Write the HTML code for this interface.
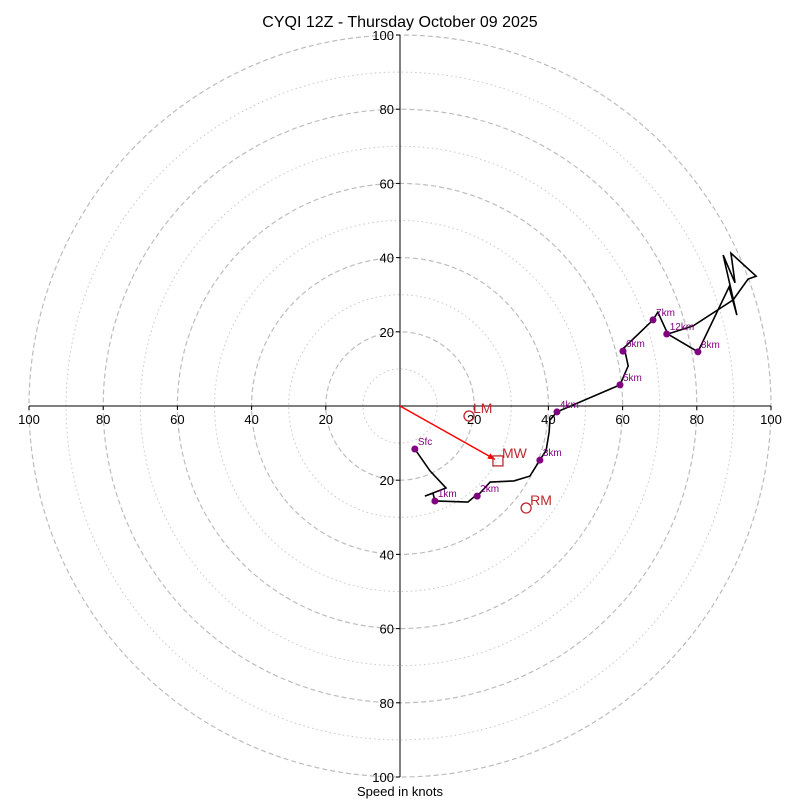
<!DOCTYPE html>
<html><head><meta charset="utf-8"><style>
html,body{margin:0;padding:0;background:#fff;}
svg{display:block;font-family:"Liberation Sans","DejaVu Sans",sans-serif;}
</style></head><body>
<svg id="chart" width="800" height="800" viewBox="0 0 800 800">
<text x="400" y="27" text-anchor="middle" font-size="16" fill="#000">CYQI 12Z - Thursday October 09 2025</text>
<text x="400" y="796" text-anchor="middle" font-size="13" fill="#000">Speed in knots</text>
<g id="rings"></g><g id="axes"></g><g id="plot"></g>
</svg>
<script>
const ringMajor = [20, 40, 60, 80, 100];
const ringMinor = [10, 30, 50, 70, 90];
const tickVals = [20, 40, 60, 80, 100];
// hodograph wind components (u, v) in knots
const hodoU = [4.0,8.1,12.4,6.7,8.9,9.4,18.3,20.2,20.8,24.3,30.7,35.0,37.7,39.4,40.2,40.4,42.3,59.3,61.5,60.4,60.1,60.6,68.2,69.5,72.2,80.3,88.7,90.8,87.1,90.3,89.2,96.0,93.8,89.8,79.0,72.2];
const hodoV = [-11.6,-17.5,-22.1,-24.3,-23.5,-25.6,-25.9,-24.3,-24.3,-20.5,-20.2,-18.9,-14.6,-11.9,-7.0,-3.8,-1.6,5.7,10.8,15.9,14.8,15.9,23.2,25.3,19.4,14.6,32.1,24.5,40.7,33.2,41.2,35.0,34.2,28.6,21.6,19.4];
const levelNames = ["Sfc","1km","2km","3km","4km","5km","6km","7km","8km","12km"];
const levelU = [4.0,9.4,20.8,37.7,42.3,59.3,60.1,68.2,80.3,71.9];
const levelV = [-11.6,-25.6,-24.3,-14.6,-1.6,5.7,14.8,23.2,14.6,19.4];
const motionNames = ["LM","MW","RM"];
const motionU = [18.6,26.4,34.0];
const motionV = [-2.7,-14.8,-27.5];

const cx=400, cy=406, R=371, maxV=100;
const sx = u => cx + u/maxV*R;
const sy = v => cy - v/maxV*R;
const NS="http://www.w3.org/2000/svg";
function mk(tag, attrs, parent){const e=document.createElementNS(NS,tag);for(const k in attrs)e.setAttribute(k,attrs[k]);parent.appendChild(e);return e;}
const rings=document.getElementById('rings'), axes=document.getElementById('axes'), plot=document.getElementById('plot');
ringMinor.forEach(r=>{const c=mk('circle',{cx:cx,cy:cy,r:r/maxV*R,fill:'none',stroke:'#c8c8c8','stroke-width':1,'stroke-dasharray':'1.5,3'},rings);

});
ringMajor.forEach(r=>{const c=mk('circle',{cx:cx,cy:cy,r:r/maxV*R,fill:'none',stroke:'#bdbdbd','stroke-width':1.2,'stroke-dasharray':'5,3'},rings);

});
const xa=mk('line',{x1:sx(-100),y1:cy,x2:sx(100),y2:cy,stroke:'#000','stroke-width':1},axes);


const ya=mk('line',{x1:cx,y1:sy(100),x2:cx,y2:sy(-100),stroke:'#000','stroke-width':1},axes);


tickVals.forEach(t=>{[t,-t].forEach(v=>{
 mk('line',{x1:sx(v),y1:cy,x2:sx(v),y2:cy+4,stroke:'#000'},axes);
 const tx=mk('text',{x:sx(v),y:cy+18,'text-anchor':'middle','font-size':13},axes);tx.textContent=t;
 
 
 mk('line',{x1:cx-4,y1:sy(v),x2:cx,y2:sy(v),stroke:'#000'},axes);
 const ty=mk('text',{x:cx-6,y:sy(v)+5,'text-anchor':'end','font-size':13},axes);ty.textContent=t;
 
 
});});
const hl=mk('polyline',{points:hodoU.map((u,i)=>sx(u)+','+sy(hodoV[i])).join(' '),fill:'none',stroke:'#000','stroke-width':1.6,'stroke-linejoin':'miter'},plot);


levelNames.forEach((n,i)=>{
 const d=mk('circle',{cx:sx(levelU[i]),cy:sy(levelV[i]),r:3.5,fill:'#800080'},plot);
 
 
 const t=mk('text',{x:sx(levelU[i])+3,y:sy(levelV[i])-4,'font-size':10,fill:'#800080'},plot);t.textContent=n;
 
 
});
const ar=mk('line',{x1:sx(0),y1:sy(0),x2:sx(motionU[1])-3,y2:sy(motionV[1])-1.5,stroke:'#ff0000','stroke-width':1.5},plot);


const ah=mk('polygon',{points:'0,0 -7,-3 -7,3',fill:'#ff0000',transform:`translate(${sx(motionU[1])-3},${sy(motionV[1])-1.5}) rotate(${Math.atan2(-motionV[1],motionU[1])*180/Math.PI})`},plot);


motionNames.forEach((n,i)=>{
 const x=sx(motionU[i]),y=sy(motionV[i]);
 let m;
 if(n==='MW') m=mk('rect',{x:x-5,y:y-5,width:10,height:10,fill:'none',stroke:'#c0282d','stroke-width':1.3},plot);
 else m=mk('circle',{cx:x,cy:y,r:5,fill:'none',stroke:'#c0282d','stroke-width':1.3},plot);
 
 
 const t=mk('text',{x:x+4,y:y-3,'font-size':14,fill:'#c0282d'},plot);t.textContent=n;
 
 
});
</script>
</body></html>
